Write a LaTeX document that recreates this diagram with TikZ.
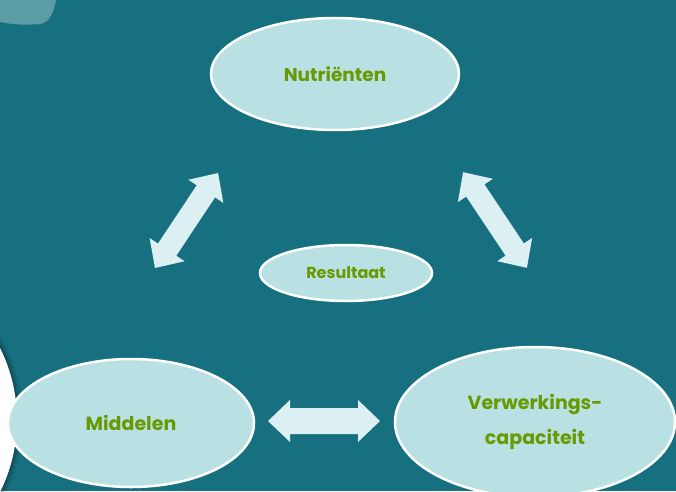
\documentclass[tikz,border=0pt]{standalone}
\usepackage{fontspec}
\setmainfont{Poppins}
\usetikzlibrary{shapes.geometric}
\definecolor{bgteal}{HTML}{177080}
\definecolor{ellfill}{HTML}{B9E0E3}
\definecolor{txtgreen}{HTML}{669A00}
\definecolor{arrfill}{HTML}{DCEFF2}
\definecolor{blob}{HTML}{5C9CA5}
\tikzset{
  oval/.style={ellipse, draw=white, line width=2.5pt, fill=ellfill, inner sep=0pt,
    text=txtgreen, align=center},
  pics/dblarr/.style n args={2}{code={
    \fill[arrfill] (-#1,0) -- (-#1+22,21) -- (-#1+22,#2) -- (#1-22,#2) -- (#1-22,21)
      -- (#1,0) -- (#1-22,-21) -- (#1-22,-#2) -- (-#1+22,-#2) -- (-#1+22,-21) -- cycle;
  }}
}
\begin{document}
\begin{tikzpicture}[x=1pt,y=1pt]
\useasboundingbox (0,0) rectangle (676,491);
\fill[bgteal] (0,0) rectangle (676,491);
% top-left blob
\fill[blob] (0,491) -- (0,469) .. controls (14,466) and (28,466) .. (40,467)
  .. controls (50,468) and (54,480) .. (56,491) -- cycle;
% left white circle with soft shadow
\begin{scope}
\clip (0,0) rectangle (676,491);
\foreach \r/\o in {7/0.04,5/0.07,3/0.1,1.5/0.15}{
  \fill[black,opacity=\o] (-144,71) circle (161+\r);
}
\fill[white] (-144,71) circle (161);
\end{scope}
% ellipses
\node[oval, minimum width=248pt, minimum height=112pt, font=\bfseries\fontsize{18.5}{22}\selectfont] (nut) at (335,417) {Nutriënten};
\node[oval, minimum width=172pt, minimum height=56pt, font=\bfseries\fontsize{16}{19}\selectfont] (res) at (346,218) {Resultaat};
\node[oval, minimum width=246pt, minimum height=128pt, font=\bfseries\fontsize{19}{23}\selectfont] (mid) at (131,68) {Middelen};
\node[oval, minimum width=280pt, minimum height=150pt, font=\bfseries\fontsize{19}{35}\selectfont] (ver) at (535,69) {Verwerkings-\\capaciteit};
% block arrows
\pic[rotate=56.4] (a1) at (186.5,270.5) {dblarr={57}{11}};
\pic[rotate=-56.3] (a2) at (495,271) {dblarr={57.5}{11}};
\pic (a3) at (324,70) {dblarr={56}{13}};
\end{tikzpicture}
\end{document}
